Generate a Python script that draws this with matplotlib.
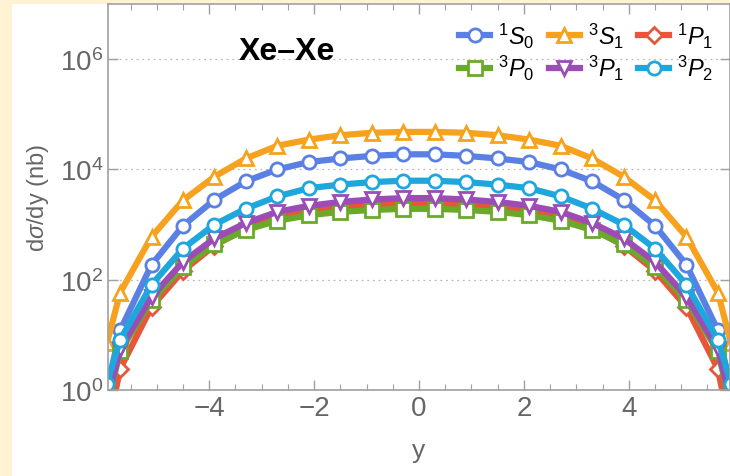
import numpy as np
import matplotlib
matplotlib.use("Agg")
import matplotlib.pyplot as plt
from matplotlib.patches import Rectangle
from matplotlib.ticker import FixedLocator, MultipleLocator

plt.rcParams['font.family'] = ['Liberation Sans', 'DejaVu Sans']
plt.rcParams['mathtext.fontset'] = 'custom'
plt.rcParams['mathtext.rm'] = 'Liberation Sans'
plt.rcParams['mathtext.it'] = 'Liberation Sans:italic'
plt.rcParams['mathtext.bf'] = 'Liberation Sans:bold'

# rapidity points (markers), plus the two edge points
y = [-5.95, -5.7, -5.1, -4.5, -3.9, -3.3, -2.7, -2.1, -1.5, -0.9, -0.3,
     0.3, 0.9, 1.5, 2.1, 2.7, 3.3, 3.9, 4.5, 5.1, 5.7, 5.95]

# dsigma/dy in nb
s1S0 = [1.0, 12, 186, 955, 2820, 6100, 10000, 13600, 15800, 17600, 18800,
        18800, 17600, 15800, 13600, 10000, 6100, 2820, 955, 186, 12, 1.0]
s3S1 = [7, 58, 600, 2750, 7400, 15800, 26900, 34700, 41700, 46200, 47900,
        47900, 46200, 41700, 34700, 26900, 15800, 7400, 2750, 600, 58, 7]
s1P1 = [0.16, 2.4, 32, 145, 417, 850, 1410, 1820, 2090, 2290, 2400,
        2400, 2290, 2090, 1820, 1410, 850, 417, 145, 32, 2.4, 0.16]
s3P0 = [0.5, 5.0, 42, 170, 437, 800, 1175, 1480, 1700, 1840, 1930,
        1930, 1840, 1700, 1480, 1175, 800, 437, 170, 42, 5.0, 0.5]
s3P1 = [0.6, 5.6, 49, 211, 562, 1070, 1700, 2190, 2570, 2850, 3020,
        3020, 2850, 2570, 2190, 1700, 1070, 562, 211, 49, 5.6, 0.6]
s3P2 = [1.3, 8.1, 81, 367, 1000, 1950, 3240, 4570, 5310, 5890, 6240,
        6240, 5890, 5310, 4570, 3240, 1950, 1000, 367, 81, 8.1, 1.3]

series = [
    (s1S0, r'$^{1}S_{0}$', '#5b80e4', 'o'),
    (s3S1, r'$^{3}S_{1}$', '#f7a21e', '^'),
    (s1P1, r'$^{1}P_{1}$', '#e8553a', 'D'),
    (s3P0, r'$^{3}P_{0}$', '#6aaa2a', 's'),
    (s3P1, r'$^{3}P_{1}$', '#9b4db5', 'v'),
    (s3P2, r'$^{3}P_{2}$', '#1ea7dc', 'o'),
]

fig = plt.figure(figsize=(7.3, 4.77), dpi=100, facecolor='#fff3d4')
fig.patches.append(Rectangle((12 / 730, 0), 1, 1 - 5 / 477,
                             transform=fig.transFigure, facecolor='white',
                             edgecolor='none', zorder=-10))
ax = fig.add_axes([108 / 730, 1 - 391 / 477, 1 - 108 / 730, 386 / 477])

handles = []
for vals, lab, col, mk in series:
    ms = 8 if mk == 'D' else 9.5
    h, = ax.plot(y, vals, color=col, lw=4.5, marker=mk, ms=ms,
                 mfc='white', mec=col, mew=2.0, label=lab)
    handles.append(h)

ax.set_yscale('log')
ax.set_xlim(-5.93, 5.93)
ax.set_ylim(1, 1e7)
ax.yaxis.set_major_locator(FixedLocator([1, 1e2, 1e4, 1e6]))
ax.yaxis.set_minor_locator(FixedLocator([]))
ax.xaxis.set_major_locator(MultipleLocator(2))
ax.xaxis.set_minor_locator(MultipleLocator(0.5))
for v in [1e2, 1e4, 1e6]:
    ax.axhline(v, color='#bbbbbb', lw=0.9, ls=(0, (1.5, 3)), zorder=0)

for sp in ax.spines.values():
    sp.set_color('#a0a0a0')
    sp.set_linewidth(1.2)
ax.tick_params(which='both', direction='in', top=True, right=True,
               colors='#a0a0a0', labelcolor='#666666', labelsize=20)
ax.tick_params(which='major', length=7, width=1)
ax.tick_params(which='minor', length=4, width=0.8)

ax.set_xlabel('y', fontsize=19, color='#666666', labelpad=12)
ax.set_ylabel(r'd$\sigma$/dy (nb)', fontsize=17, color='#666666', labelpad=6)

ax.text(0.288, 0.878, 'Xe\u2013Xe', transform=ax.transAxes,
        fontsize=23, fontweight='bold', color='black', ha='center',
        va='center')

order = [0, 3, 1, 4, 2, 5]
ax.legend([handles[i] for i in order], [handles[i].get_label() for i in order],
          ncol=3, loc='upper right', bbox_to_anchor=(1.0, 1.0), frameon=False,
          fontsize=17, handlelength=1.3, handletextpad=0.35,
          columnspacing=0.6, labelspacing=0.15, borderaxespad=0.3)

fig.savefig('out.png', dpi=100, facecolor=fig.get_facecolor())
